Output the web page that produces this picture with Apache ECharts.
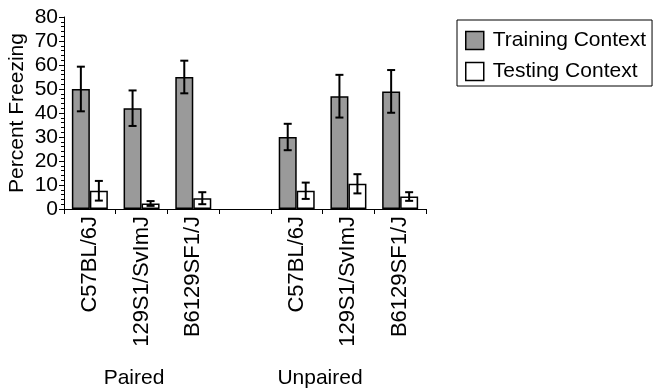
<!DOCTYPE html>
<html>
<head>
<meta charset="utf-8">
<script src="https://cdn.jsdelivr.net/npm/echarts@6/dist/echarts.min.js"></script>
<style>
html,body{margin:0;padding:0;background:#fff;}
#c{width:656px;height:388px;}
</style>
</head>
<body>
<div id="c"></div>
<script>
const categories = ['C57BL/6J', '129S1/SvImJ', 'B6129SF1/J', '', 'C57BL/6J', '129S1/SvImJ', 'B6129SF1/J'];
const trainingMean = [50, 42, 55, null, 30, 47, 49];
const trainingErr = [9.3, 7.4, 6.8, null, 5.5, 8.9, 8.9];
const testingMean = [7.6, 2.3, 4.5, null, 7.6, 10.5, 5.2];
const testingErr = [4.1, 1.0, 2.5, null, 3.4, 4.0, 1.8];
const yTicks = [0, 10, 20, 30, 40, 50, 60, 70, 80];
const groupLabels = ['Paired', 'Unpaired'];

const FONT = '"Liberation Sans", Arial, sans-serif';
const BAR_W = 18;

function errData(mean, err) {
  return mean.map((m, i) => m == null ? null : [i, m, err[i]]).filter(d => d);
}
function errSeries(name, mean, err, sign) {
  return {
    type: 'custom',
    name: name + ' err',
    z: 10,
    silent: true,
    data: errData(mean, err),
    renderItem: function (params, api) {
      const i = api.value(0), m = api.value(1), e = api.value(2);
      const top = api.coord([i, m + e]);
      const bot = api.coord([i, m - e]);
      const x = top[0] + sign * BAR_W / 2;
      const cap = 4;
      const st = { stroke: '#000', lineWidth: 2 };
      return {
        type: 'group',
        children: [
          { type: 'line', shape: { x1: x, y1: top[1], x2: x, y2: bot[1] }, style: st },
          { type: 'line', shape: { x1: x - cap, y1: top[1], x2: x + cap, y2: top[1] }, style: st },
          { type: 'line', shape: { x1: x - cap, y1: bot[1], x2: x + cap, y2: bot[1] }, style: st }
        ]
      };
    }
  };
}

const chart = echarts.init(document.getElementById('c'));
chart.setOption({
  animation: false,
  backgroundColor: '#fff',
  textStyle: { fontFamily: FONT },
  grid: { left: 64, right: 230, top: 17, bottom: 179, containLabel: false, outerBoundsMode: 'none' },
  legend: {
    orient: 'vertical',
    left: 457,
    top: 20,
    padding: [10, 6, 4, 8],
    itemGap: 10,
    itemWidth: 18,
    itemHeight: 18,
    icon: 'rect',
    borderColor: '#000',
    borderWidth: 1,
    data: ['Training Context', 'Testing Context'],
    textStyle: { fontSize: 21, color: '#000', fontFamily: FONT, padding: [0, 0, 0, 4] },
    itemStyle: { borderColor: '#000', borderWidth: 1.5 }
  },
  xAxis: {
    type: 'category',
    data: categories,
    axisLine: { lineStyle: { color: '#000', width: 1 } },
    axisTick: { show: true, length: 5, lineStyle: { color: '#000' } },
    axisLabel: { interval: 0, rotate: 90, fontSize: 22, color: '#000', margin: 7, fontFamily: FONT }
  },
  yAxis: {
    type: 'value',
    min: 0,
    max: 80,
    interval: 10,
    name: 'Percent Freezing',
    nameLocation: 'middle',
    nameGap: 36,
    nameMoveOverlap: false,
    nameTextStyle: { fontSize: 21, color: '#000', fontFamily: FONT },
    axisLine: { show: true, lineStyle: { color: '#000', width: 1 } },
    axisTick: { show: true, length: 5, lineStyle: { color: '#000' } },
    minorTick: { show: true, splitNumber: 5, length: 3, lineStyle: { color: '#000' } },
    splitLine: { show: false },
    axisLabel: {
      fontSize: 21, color: '#000', margin: 6, fontFamily: FONT,
      formatter: v => yTicks.includes(v) ? String(v) : ''
    }
  },
  series: [
    {
      name: 'Training Context',
      type: 'bar',
      barWidth: BAR_W,
      barGap: '0%',
      data: trainingMean.map(v => v == null ? '-' : v),
      itemStyle: { color: '#9a9a9a', borderColor: '#000', borderWidth: 1.5 }
    },
    {
      name: 'Testing Context',
      type: 'bar',
      barWidth: BAR_W,
      barGap: '0%',
      data: testingMean.map(v => v == null ? '-' : v),
      itemStyle: { color: '#fff', borderColor: '#000', borderWidth: 1.5 }
    },
    errSeries('Training Context', trainingMean, trainingErr, -1),
    errSeries('Testing Context', testingMean, testingErr, 1)
  ],
  graphic: [
    { type: 'text', x: 134, y: 378, style: { text: groupLabels[0], font: '21px ' + FONT, fill: '#000', align: 'center', verticalAlign: 'middle' } },
    { type: 'text', x: 320, y: 378, style: { text: groupLabels[1], font: '21px ' + FONT, fill: '#000', align: 'center', verticalAlign: 'middle' } }
  ]
});
</script>
</body>
</html>
